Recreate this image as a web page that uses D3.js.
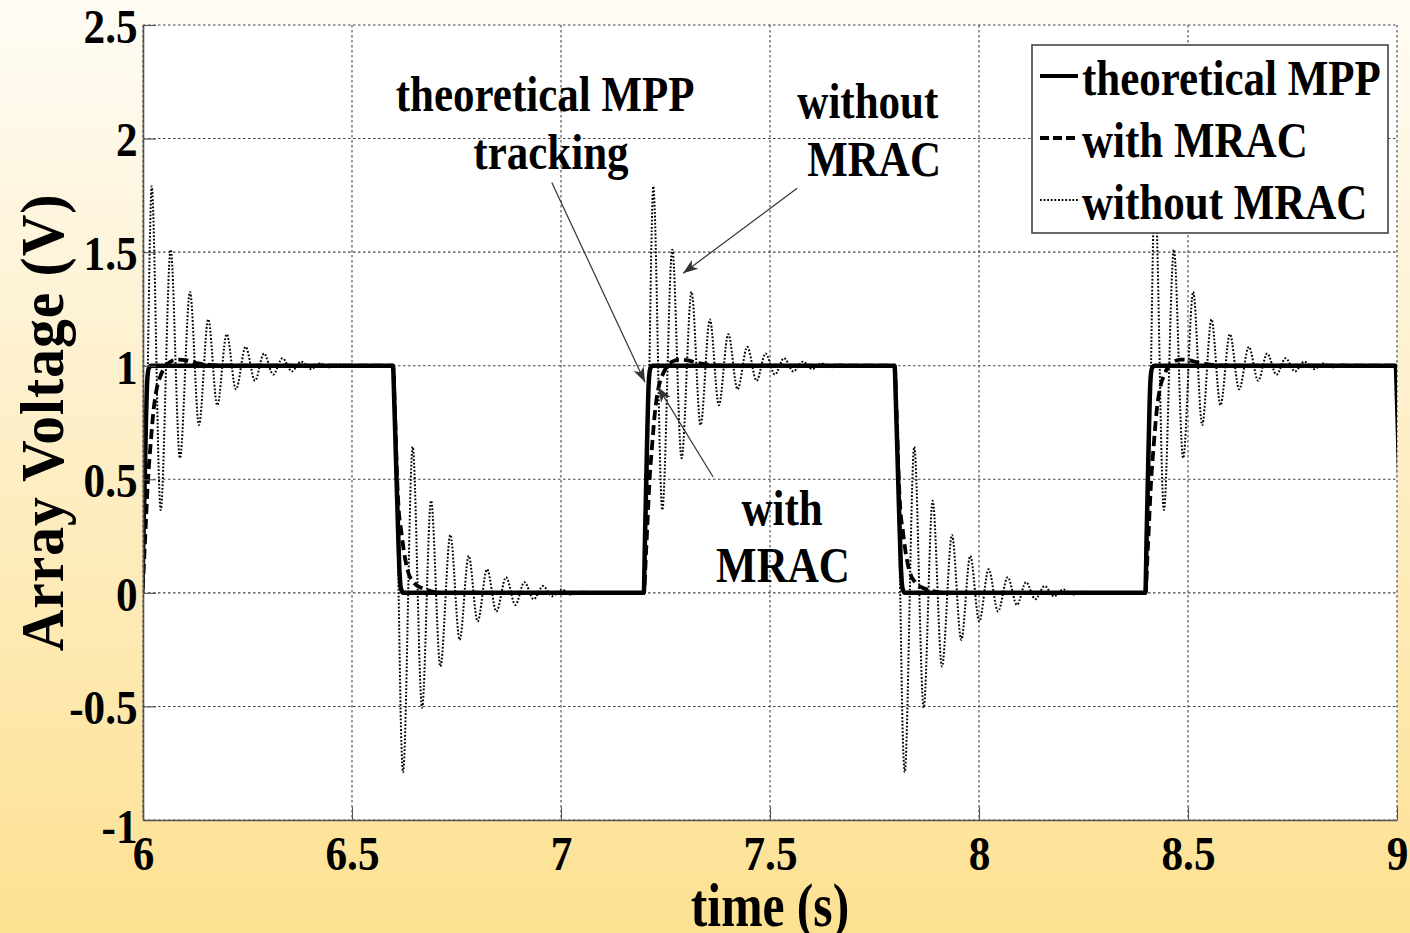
<!DOCTYPE html>
<html>
<head>
<meta charset="utf-8">
<script src="https://cdnjs.cloudflare.com/ajax/libs/d3/7.8.5/d3.min.js"></script>
<style>
  html, body { margin: 0; padding: 0; overflow: hidden; background: #fff; }
  svg { display: block; }
</style>
</head>
<body>
<div id="chart"></div>
<script>
// square wave edges (s) and which way each one steps
const edgeTimes = [5.998, 6.598, 7.198, 7.798, 8.398, 8.997];
const edgeDirs = ["up", "down", "up", "down", "up", "down"];

// theoretical MPP : offsets after an edge (s) and values
const mppRiseDt = [0, 0.003, 0.006, 0.009, 0.012, 0.016, 0.022];
const mppRiseV = [0, 0.25, 0.5, 0.75, 0.93, 0.99, 1];
const mppFallDt = [0, 0.003, 0.007, 0.011, 0.015, 0.019, 0.025];
const mppFallV = [1, 0.85, 0.6, 0.35, 0.12, 0.02, 0];

// with MRAC
const mracRiseDt = [0, 0.006, 0.014, 0.020, 0.027, 0.035, 0.045, 0.055, 0.068, 0.085, 0.105, 0.13, 0.16, 0.2];
const mracRiseV = [0, 0.2, 0.5, 0.65, 0.8, 0.9, 0.96, 0.995, 1.018, 1.027, 1.024, 1.012, 1.004, 1.0];
const mracFallDt = [0, 0.005, 0.010, 0.0136, 0.020, 0.0256, 0.035, 0.05, 0.07, 0.09, 0.12];
const mracFallV = [1, 0.78, 0.5, 0.37, 0.27, 0.19, 0.1, 0.045, 0.02, 0.008, 0];

// without MRAC (peaks / troughs of the ringing)
const noRiseDt = [0, 0.006, 0.0135, 0.019, 0.0227, 0.0443, 0.0682, 0.0904, 0.1144, 0.1359, 0.1581, 0.1797,
    0.2022, 0.2244, 0.2476, 0.2699, 0.2914, 0.3136, 0.3356, 0.358, 0.380, 0.404, 0.425, 0.448, 0.47, 0.5];
const noRiseV = [0, 0.32, 1.0, 1.6, 1.79, 0.365, 1.511, 0.593, 1.325, 0.739, 1.204, 0.826,
    1.139, 0.896, 1.083, 0.934, 1.054, 0.961, 1.033, 0.975, 1.018, 0.985, 1.01, 0.993, 1.005, 1.0];
const noFallDt = [0, 0.006, 0.0135, 0.019, 0.0242, 0.0471, 0.0696, 0.0911, 0.1134, 0.1373, 0.1596, 0.1811,
    0.2026, 0.2251, 0.2474, 0.2706, 0.2928, 0.3144, 0.3366, 0.359, 0.381, 0.404, 0.426, 0.45, 0.5];
const noFallV = [1, 0.7, 0.0, -0.58, -0.79, 0.643, -0.506, 0.406, -0.324, 0.255, -0.207, 0.163,
    -0.126, 0.104, -0.082, 0.069, -0.053, 0.047, -0.028, 0.03, -0.015, 0.015, -0.008, 0.005, 0];

const xTicks = [6, 6.5, 7, 7.5, 8, 8.5, 9];
const yTicks = [-1, -0.5, 0, 0.5, 1, 1.5, 2, 2.5];
const seriesNames = ["theoretical MPP", "with MRAC", "without MRAC"];

// text notes on the plot (time, value of baseline)
const noteLines = [["theoretical MPP", "tracking"], ["without", "MRAC"], ["with", "MRAC"]];
const noteT = [[6.962, 6.976], [7.734, 7.749], [7.529, 7.531]];
const noteV = [[2.12, 1.865], [2.089, 1.835], [0.299, 0.05]];
const arrowFrom = [[6.978, 1.807], [7.565, 1.781], [7.364, 0.51]];
const arrowTo = [[7.201, 0.927], [7.292, 1.407], [7.232, 0.906]];

const width = 1410, height = 933;
const margin = { top: 25, right: 13, bottom: 113, left: 143 };
const serif = "'Liberation Serif', 'Times New Roman', Times, serif";

const x = d3.scaleLinear().domain([6, 9]).range([margin.left, width - margin.right]);
const y = d3.scaleLinear().domain([-1, 2.5]).range([height - margin.bottom, margin.top]);

function buildSeries(riseDt, riseV, fallDt, fallV) {
    var pts = [[5.9, 0]];
    edgeTimes.forEach(function (te, i) {
        var up = edgeDirs[i] == "up";
        var dts = up ? riseDt : fallDt;
        var vs = up ? riseV : fallV;
        dts.forEach(function (dt, j) { pts.push([te + dt, vs[j]]); });
    });
    return pts;
}

const series = [
    buildSeries(mppRiseDt, mppRiseV, mppFallDt, mppFallV),
    buildSeries(mracRiseDt, mracRiseV, mracFallDt, mracFallV),
    buildSeries(noRiseDt, noRiseV, noFallDt, noFallV)
];
const seriesStyle = [
    { w: 4.5, dash: null },
    { w: 3.8, dash: "10,5" },
    { w: 2, dash: "1.8,1.8" }
];

const svg = d3.select("#chart").append("svg")
    .attr("width", width)
    .attr("height", height);

const defs = svg.append("defs");
const grad = defs.append("linearGradient")
    .attr("id", "bg")
    .attr("x1", 0).attr("y1", 0).attr("x2", 0).attr("y2", 1);
grad.append("stop").attr("offset", "0%").attr("stop-color", "#fffcf5");
grad.append("stop").attr("offset", "45%").attr("stop-color", "#fdefc9");
grad.append("stop").attr("offset", "100%").attr("stop-color", "#fde192");

defs.append("clipPath").attr("id", "plotclip")
    .append("rect")
    .attr("x", x(6)).attr("y", y(2.5))
    .attr("width", x(9) - x(6)).attr("height", y(-1) - y(2.5));

defs.append("marker")
    .attr("id", "arrowhead")
    .attr("viewBox", "-16 -7 18 14")
    .attr("refX", 0).attr("refY", 0)
    .attr("markerWidth", 18).attr("markerHeight", 14)
    .attr("markerUnits", "userSpaceOnUse")
    .attr("orient", "auto")
    .append("path")
    .attr("d", "M0,0 L-15,-5.5 L-11,0 L-15,5.5 Z")
    .attr("fill", "#333");

svg.append("rect")
    .attr("width", width).attr("height", height)
    .attr("fill", "url(#bg)");

// plot area
svg.append("rect")
    .attr("x", x(6)).attr("y", y(2.5))
    .attr("width", x(9) - x(6)).attr("height", y(-1) - y(2.5))
    .attr("fill", "white");

// grid
const grid = svg.append("g").attr("class", "grid");
grid.selectAll(".gx").data(xTicks).enter().append("line")
    .attr("x1", d => x(d)).attr("x2", d => x(d))
    .attr("y1", y(2.5)).attr("y2", y(-1));
grid.selectAll(".gy").data(yTicks).enter().append("line")
    .attr("x1", x(6)).attr("x2", x(9))
    .attr("y1", d => y(d)).attr("y2", d => y(d));
grid.selectAll("line")
    .attr("stroke", "#444")
    .attr("stroke-width", 1.1)
    .attr("stroke-dasharray", "2.5,2.5");

// data
const line = d3.line()
    .x(d => x(d[0]))
    .y(d => y(d[1]))
    .curve(d3.curveMonotoneX);

svg.append("g")
    .attr("clip-path", "url(#plotclip)")
    .selectAll("path")
    .data(series).enter()
    .append("path")
    .attr("d", line)
    .attr("fill", "none")
    .attr("stroke", "#000")
    .attr("stroke-width", (d, i) => seriesStyle[i].w)
    .attr("stroke-dasharray", (d, i) => seriesStyle[i].dash)
    .attr("stroke-linejoin", "round");

// axes
const xAxis = svg.append("g")
    .attr("transform", "translate(0," + y(-1) + ")")
    .call(d3.axisBottom(x).tickValues(xTicks).tickFormat(d => String(d))
        .tickSizeInner(-13).tickSizeOuter(0).tickPadding(16));
const yAxis = svg.append("g")
    .attr("transform", "translate(" + x(6) + ",0)")
    .call(d3.axisLeft(y).tickValues(yTicks).tickFormat(d => String(d))
        .tickSizeInner(-13).tickSizeOuter(0).tickPadding(6));

[xAxis, yAxis].forEach(function (ax) {
    ax.select(".domain").attr("stroke", "#555").attr("stroke-width", 1.6);
    ax.selectAll(".tick line").attr("stroke", "#555").attr("stroke-width", 1.1);
    ax.selectAll(".tick text")
        .attr("fill", "#000")
        .style("font-family", serif)
        .style("font-weight", "bold")
        .style("font-size", "48px")
        .attr("transform", "scale(0.9,1)");
});
yAxis.selectAll(".tick text").attr("dy", "0.36em");
// -1 sits a bit low in the original
yAxis.selectAll(".tick text").filter(d => d == -1).attr("dy", "0.46em");

// axis titles
svg.append("text")
    .attr("transform", "translate(" + x(7.5) + ",926) scale(0.8,1)")
    .attr("text-anchor", "middle")
    .style("font-family", serif)
    .style("font-weight", "bold")
    .style("font-size", "62px")
    .text("time (s)");

svg.append("text")
    .attr("transform", "translate(63," + ((y(2.5) + y(-1)) / 2) + ") rotate(-90) scale(0.93,1)")
    .attr("text-anchor", "middle")
    .style("font-family", serif)
    .style("font-weight", "bold")
    .style("font-size", "62px")
    .style("letter-spacing", "1px")
    .text("Array Voltage (V)");

// notes + arrows
noteLines.forEach(function (lines, i) {
    lines.forEach(function (txt, j) {
        svg.append("text")
            .attr("transform", "translate(" + x(noteT[i][j]) + "," + y(noteV[i][j]) + ") scale(0.86,1)")
            .attr("text-anchor", "middle")
            .style("font-family", serif)
            .style("font-weight", "bold")
            .style("font-size", "50px")
            .text(txt);
    });
});

svg.selectAll(".arrow")
    .data(arrowFrom).enter()
    .append("line")
    .attr("class", "arrow")
    .attr("x1", d => x(d[0])).attr("y1", d => y(d[1]))
    .attr("x2", (d, i) => x(arrowTo[i][0])).attr("y2", (d, i) => y(arrowTo[i][1]))
    .attr("stroke", "#333")
    .attr("stroke-width", 1.2)
    .attr("marker-end", "url(#arrowhead)");

// legend
const legend = svg.append("g")
    .attr("transform", "translate(1032,45)");
legend.append("rect")
    .attr("width", 356).attr("height", 188)
    .attr("fill", "white")
    .attr("stroke", "#444")
    .attr("stroke-width", 1.6);

const item = legend.selectAll(".item")
    .data(seriesNames).enter()
    .append("g")
    .attr("class", "item")
    .attr("transform", (d, i) => "translate(0," + (31 + i * 62) + ")");
item.append("line")
    .attr("x1", 8).attr("x2", 46)
    .attr("stroke", "#000")
    .attr("stroke-width", (d, i) => i == 2 ? 2 : 4)
    .attr("stroke-dasharray", (d, i) => i == 1 ? "9,4" : (i == 2 ? "1.8,1.8" : null));
item.append("text")
    .attr("transform", "translate(50,19) scale(0.86,1)")
    .style("font-family", serif)
    .style("font-weight", "bold")
    .style("font-size", "50px")
    .text(d => d);
</script>
</body>
</html>
